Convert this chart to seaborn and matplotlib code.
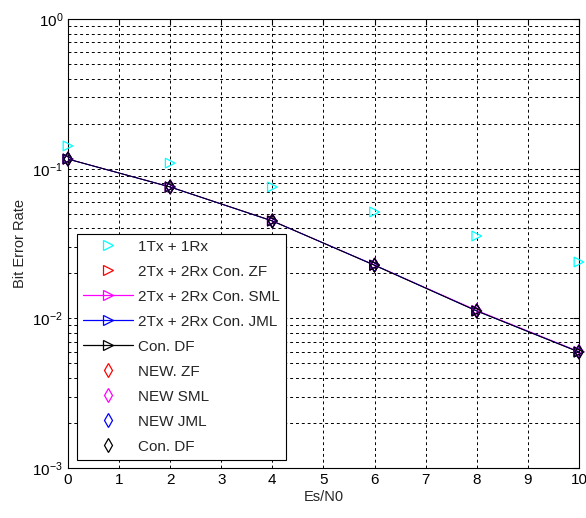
import numpy as np
import pandas as pd
import matplotlib
matplotlib.use("Agg")
import matplotlib.pyplot as plt
import seaborn as sns
from matplotlib.ticker import LogLocator, LogFormatterSciNotation, NullFormatter, MultipleLocator
from matplotlib.lines import Line2D

sns.set_style("white")
plt.rcParams["font.family"] = ["Liberation Sans", "DejaVu Sans"]
plt.rcParams["mathtext.fontset"] = "custom"
plt.rcParams["mathtext.rm"] = "Liberation Sans"
plt.rcParams["mathtext.it"] = "Liberation Sans"

# Es/N0 points (dB)
snr = [0, 2, 4, 6, 8, 10]

# Bit error rates per scheme
ber_1x1 = [0.142, 0.109, 0.0755, 0.0514, 0.0355, 0.0238]
ber_con_zf = [0.116, 0.0755, 0.0448, 0.0227, 0.0112, 0.00597]
ber_con_sml = [0.116, 0.0755, 0.0448, 0.0227, 0.0113, 0.00600]
ber_con_jml = [0.116, 0.0755, 0.0447, 0.0227, 0.0112, 0.00597]
ber_con_df = [0.116, 0.0755, 0.0448, 0.0226, 0.0112, 0.00595]
ber_new_zf = [0.116, 0.0755, 0.0448, 0.0227, 0.0112, 0.00597]
ber_new_sml = [0.116, 0.0755, 0.0448, 0.0227, 0.0113, 0.00600]
ber_new_jml = [0.116, 0.0755, 0.0447, 0.0227, 0.0112, 0.00597]
ber_new_df = [0.116, 0.0755, 0.0448, 0.0226, 0.0112, 0.00595]

labels = ["1Tx + 1Rx", "2Tx + 2Rx Con. ZF", "2Tx + 2Rx Con. SML",
          "2Tx + 2Rx Con. JML", "Con. DF", "NEW. ZF", "NEW SML",
          "NEW JML", "Con. DF"]

# (values, colour, marker, draw line)
series = [
    (ber_1x1, "#00FFFF", ">", False),
    (ber_con_zf, "#FF0000", ">", False),
    (ber_con_sml, "#FF00FF", ">", True),
    (ber_con_jml, "#0000FF", ">", True),
    (ber_con_df, "#000000", ">", True),
    (ber_new_zf, "#FF0000", "d", False),
    (ber_new_sml, "#FF00FF", "d", False),
    (ber_new_jml, "#0000FF", "d", False),
    (ber_new_df, "#000000", "d", False),
]

fig = plt.figure(figsize=(5.86, 5.18), dpi=100)
ax = fig.add_axes([0.116, 0.0965, 0.872, 0.8667])

handles = []
for (vals, col, mk, has_line), lab in zip(series, labels):
    df = pd.DataFrame({"snr": snr, "ber": vals})
    if has_line:
        sns.lineplot(data=df, x="snr", y="ber", ax=ax, color=col, lw=0.7,
                     marker=None, legend=False, zorder=3)
    sns.scatterplot(data=df, x="snr", y="ber", ax=ax, marker=mk, s=48,
                    facecolors="none", edgecolors=col, linewidths=0.9,
                    legend=False, zorder=4, clip_on=False)
    handles.append(Line2D([], [], color=col, lw=0.9 if has_line else 0,
                          linestyle="-" if has_line else "none",
                          marker=mk, markersize=7, markerfacecolor="none",
                          markeredgecolor=col, markeredgewidth=0.9))

ax.set_yscale("log")
ax.set_xlim(0, 10)
ax.set_ylim(1e-3, 1)
ax.xaxis.set_major_locator(MultipleLocator(1))
ax.yaxis.set_major_locator(LogLocator(base=10, numticks=10))
ax.yaxis.set_minor_locator(LogLocator(base=10, subs=np.arange(2, 10), numticks=20))
ax.yaxis.set_major_formatter(LogFormatterSciNotation())
ax.yaxis.set_minor_formatter(NullFormatter())

ax.grid(True, which="major", axis="both", color="black", linestyle=(0, (3, 3)), lw=0.7)
ax.grid(True, which="minor", axis="y", color="black", linestyle=(0, (3, 3)), lw=0.7)
ax.set_axisbelow(True)

ax.tick_params(which="both", direction="in", top=True, right=True,
               labelsize=11, colors="black", length=4)
ax.tick_params(which="minor", length=2)
for sp in ax.spines.values():
    sp.set_color("black")
    sp.set_linewidth(0.8)

ax.set_xlabel("Es/N0", fontsize=10.5, labelpad=2)
ax.set_ylabel("Bit Error Rate", fontsize=10.5, labelpad=4)

leg = ax.legend(handles, labels, loc="lower left", bbox_to_anchor=(0.0176, 0.018),
                borderaxespad=0, fancybox=False, framealpha=1, edgecolor="black",
                fontsize=11, handlelength=3.3, labelspacing=0.72,
                handletextpad=0.3, borderpad=0.4)
leg.get_frame().set_linewidth(0.8)
leg.set_zorder(10)

fig.savefig("out.png", dpi=100)
